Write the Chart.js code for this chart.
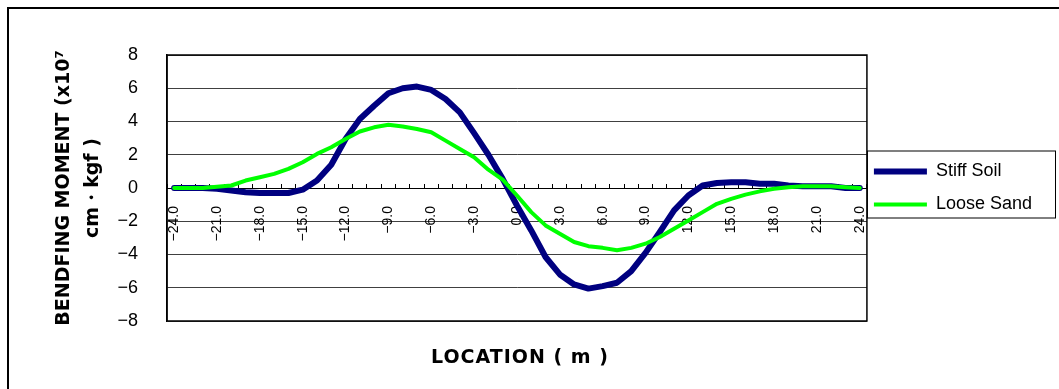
<!DOCTYPE html>
<html>
<head>
<meta charset="utf-8">
<script src="https://cdn.jsdelivr.net/npm/chart.js@4.4.1/dist/chart.umd.min.js"></script>
<style>
  html, body { margin: 0; padding: 0; background: #fff; overflow: hidden; }
  #wrap { position: relative; width: 1059px; height: 389px; }
  #frame { position: absolute; left: 7px; top: 7px; width: 1100px; height: 420px;
           border-left: 2px solid #000; border-top: 2px solid #000; }
  canvas { position: absolute; left: 0; top: 0; }
</style>
</head>
<body>
<div id="wrap">
  <div id="frame"></div>
  <canvas id="chart" width="1059" height="389"></canvas>
</div>
<script>
// location along the pile (m)
const locations = [
  -24, -23, -22, -21, -20, -19, -18, -17, -16, -15, -14, -13, -12,
  -11, -10, -9, -8, -7, -6, -5, -4, -3, -2, -1, 0,
  1, 2, 3, 4, 5, 6, 7, 8, 9, 10, 11, 12,
  13, 14, 15, 16, 17, 18, 19, 20, 21, 22, 23, 24
];

// bending moment (x10^7 cm・kgf)
const stiffSoil = [
  0, 0, 0, -0.05, -0.15, -0.25, -0.3, -0.3, -0.3, -0.1, 0.45, 1.4, 2.95,
  4.15, 4.95, 5.7, 6.0, 6.1, 5.9, 5.35, 4.55, 3.3, 2.0, 0.55, -1.05,
  -2.55, -4.15, -5.2, -5.8, -6.05, -5.9, -5.7, -5.0, -3.9, -2.65, -1.35, -0.45,
  0.15, 0.3, 0.35, 0.35, 0.25, 0.25, 0.15, 0.1, 0.1, 0.1, 0.0, 0.0
];
const looseSand = [
  0, 0, 0, 0.08, 0.15, 0.45, 0.65, 0.85, 1.15, 1.55, 2.05, 2.45, 2.95,
  3.4, 3.65, 3.8, 3.7, 3.55, 3.35, 2.85, 2.35, 1.85, 1.1, 0.5, -0.45,
  -1.45, -2.25, -2.75, -3.25, -3.5, -3.6, -3.75, -3.6, -3.35, -2.95, -2.45, -1.95,
  -1.45, -0.95, -0.65, -0.4, -0.2, -0.05, 0.05, 0.1, 0.1, 0.1, 0.05, 0.0
];

const yTicks = [-8, -6, -4, -2, 0, 2, 4, 6, 8];

const FONT = "'Liberation Sans', Arial, sans-serif";
const BOLD = "'DejaVu Sans', 'Liberation Sans', sans-serif";
const minus = s => String(s).replace("-", "\u2212");

// plot frame, legend box and x title
const extras = {
  id: "extras",
  afterLayout(chart) {
    chart.legend.left -= 8;
  },
  beforeDatasetsDraw(chart) {
    const { ctx, chartArea: a } = chart;
    ctx.save();
    ctx.strokeStyle = "#000";
    ctx.lineWidth = 1.5;
    ctx.strokeRect(a.left, a.top, a.right - a.left, a.bottom - a.top);
    ctx.restore();
  },
  afterDraw(chart) {
    const { ctx, chartArea: a, legend } = chart;
    ctx.save();
    const boxes = legend.legendHitBoxes;
    if (boxes.length) {
      const first = boxes[0], last = boxes[boxes.length - 1];
      const top = first.top - 12;
      const bottom = last.top + last.height + 4;
      ctx.strokeStyle = "#000";
      ctx.lineWidth = 1;
      ctx.strokeRect(a.right + 0.5, top + 0.5, 1055 - a.right, bottom - top);
    }
    ctx.fillStyle = "#000";
    ctx.font = "bold 19px " + BOLD;
    ctx.letterSpacing = "1px";
    ctx.textAlign = "center";
    ctx.textBaseline = "middle";
    ctx.fillText("LOCATION ( m )", (a.left + a.right) / 2 + 3, 358);
    ctx.restore();
  }
};

new Chart(document.getElementById("chart"), {
  type: "line",
  data: {
    labels: locations,
    datasets: [
      {
        label: "Stiff Soil",
        data: stiffSoil,
        borderColor: "#000080",
        backgroundColor: "#000080",
        borderWidth: 6,
        order: 1
      },
      {
        label: "Loose Sand",
        data: looseSand,
        borderColor: "#00FF00",
        backgroundColor: "#00FF00",
        borderWidth: 4,
        order: 0
      }
    ]
  },
  options: {
    responsive: false,
    animation: false,
    devicePixelRatio: 1,
    layout: { padding: { left: 50, top: 55, bottom: 68, right: 9 } },
    elements: {
      point: { radius: 0 },
      line: { tension: 0, borderCapStyle: "round", borderJoinStyle: "round" }
    },
    plugins: {
      tooltip: { enabled: false },
      legend: {
        position: "right",
        align: "center",
        labels: {
          color: "#000",
          font: { family: FONT, size: 18 },
          usePointStyle: true,
          pointStyle: "line",
          pointStyleWidth: 53,
          padding: 15,
          sort: (a, b) => a.datasetIndex - b.datasetIndex
        }
      }
    },
    scales: {
      x: {
        type: "category",
        position: { y: 0 },
        offset: true,
        grid: {
          offset: true,
          drawOnChartArea: false,
          drawTicks: true,
          tickLength: -5,
          tickColor: "#000",
          tickWidth: 1
        },
        border: { color: "#000", width: 1 },
        ticks: {
          autoSkip: false,
          minRotation: 90,
          maxRotation: 90,
          padding: 23,
          color: "#000",
          font: { family: FONT, size: 14 },
          callback: function (v, i) {
            return i % 3 === 0 ? minus(locations[i].toFixed(1)) : "";
          }
        }
      },
      y: {
        min: -8,
        max: 8,
        afterBuildTicks: s => { s.ticks = yTicks.map(v => ({ value: v })); },
        afterFit: s => { s.width = 117; },
        grid: { color: "#404040", lineWidth: 1, drawTicks: false },
        border: { color: "#000", width: 1.5 },
        ticks: {
          padding: 29,
          color: "#000",
          font: { family: FONT, size: 18 },
          callback: v => minus(v)
        },
        title: {
          display: true,
          text: ["BENDFING MOMENT (x10\u2077", "cm\u30FBkgf )"],
          color: "#000",
          font: { family: BOLD, size: 19, weight: "bold", lineHeight: 1.5 },
          padding: { top: 0, bottom: 8 }
        }
      }
    }
  },
  plugins: [extras]
});
</script>
</body>
</html>
